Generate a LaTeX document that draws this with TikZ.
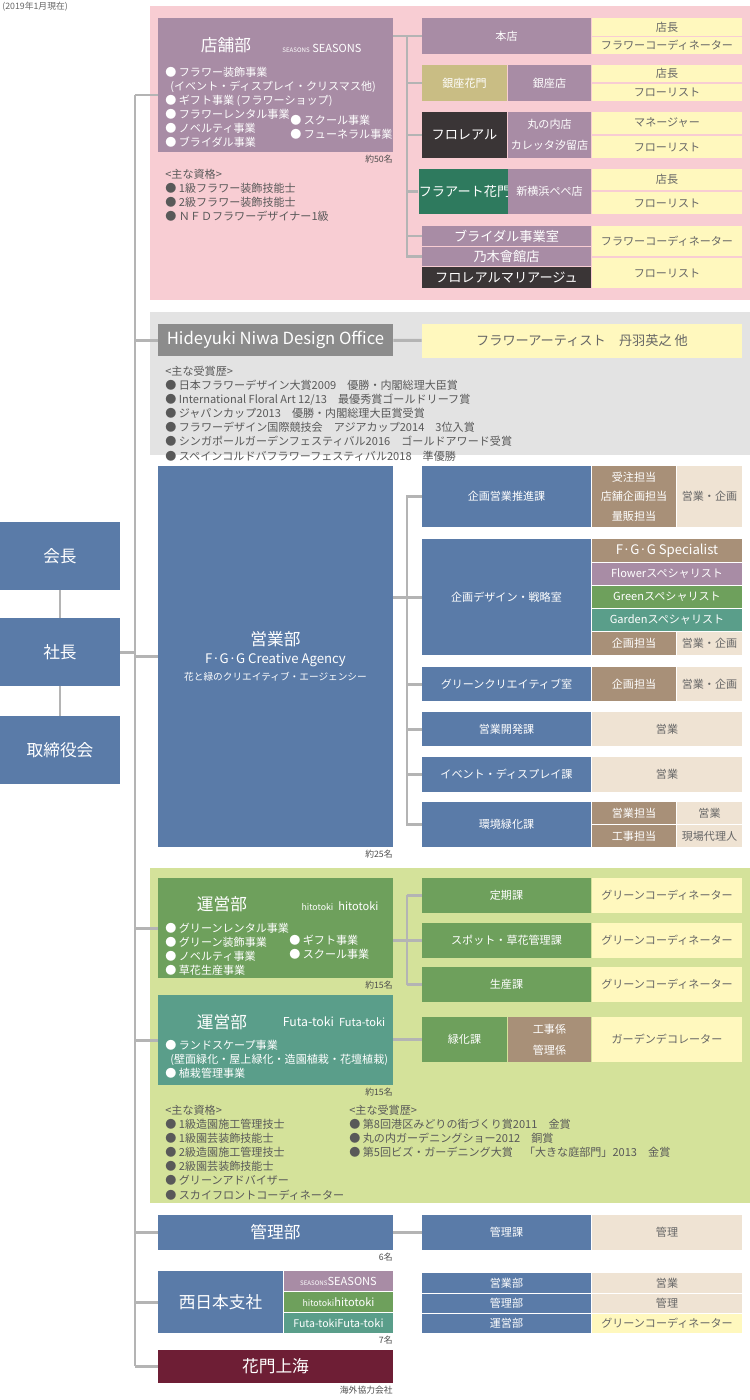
\documentclass[tikz,border=0pt]{standalone}
\usepackage{fontspec}
\setmainfont{Noto Sans CJK JP}
\usepackage{tikz}
\definecolor{pinkbg}{HTML}{F8CDD3}
\definecolor{mauve}{HTML}{A88CA5}
\definecolor{khaki}{HTML}{C9BD84}
\definecolor{darkb}{HTML}{3A3536}
\definecolor{fgreen}{HTML}{2E7A5E}
\definecolor{lyel}{HTML}{FFF8BE}
\definecolor{greybg}{HTML}{E3E3E3}
\definecolor{hngrey}{HTML}{8C8C8C}
\definecolor{sblue}{HTML}{5A7BA8}
\definecolor{tan}{HTML}{A89078}
\definecolor{beige}{HTML}{EFE3D3}
\definecolor{greenbg}{HTML}{D4E29A}
\definecolor{mgreen}{HTML}{6EA05C}
\definecolor{teal}{HTML}{5A9E8A}
\definecolor{maroon}{HTML}{6E1E35}
\definecolor{lgrey}{HTML}{B4B4B4}
\newcommand\fs{\fontsize{6.3}{8}\selectfont}
\newcommand\fm{\fontsize{7.5}{9}\selectfont}
\newcommand\fb{\fontsize{9.5}{11}\selectfont}
% box from (x1,y1) to (x2,y2) in pixels
\newcommand\rb[7]{\node[#6, minimum width={(#4-#2)*0.02cm}, minimum height={(#5-#3)*0.02cm}] (#1) at ({(#2+#4)/2},{(#3+#5)/2}) {#7};}
\begin{document}
\begin{tikzpicture}[x=0.02cm, y=-0.02cm]
        \tikzset{
            box/.style={inner sep=0pt, align=center, text=white, font=\fs},
            ybox/.style={box, fill=lyel, text=black!60},
            bbox/.style={box, fill=beige, text=black!60},
            conn/.style={draw=lgrey, line width=1.7pt},
            note/.style={inner sep=0pt, align=left, font=\fs, text=black!65, anchor=north west},
            cnt/.style={inner sep=0pt, font=\fontsize{5}{6}\selectfont, text=black!70, anchor=north east}
        }
        \useasboundingbox (0,0) rectangle (750,1400);
        \node[inner sep=0pt, anchor=north west, font=\fontsize{5}{6}\selectfont, text=black!60] (date) at (2,2) {(2019年1月現在)};

        % Section backgrounds
        \fill[pinkbg] (150,6) rectangle (750,300);
        \fill[greybg] (150,312) rectangle (750,455);
        \fill[greenbg] (150,868) rectangle (750,1203);

        % Executives
        \rb{kaicho}{0}{522}{120}{590}{box, fill=sblue, font=\fb}{会長}
        \rb{shacho}{0}{618}{120}{686}{box, fill=sblue, font=\fb}{社長}
        \rb{board}{0}{716}{120}{784}{box, fill=sblue, font=\fb}{取締役会}
        \draw[conn] (kaicho) -- (shacho) -- (board);
        \coordinate (trunkTop) at (135,95);
        \coordinate (trunkBot) at (135,1366);
        \draw[conn] (trunkTop) -- (trunkBot);
        \draw[conn] (shacho.east) -- (shacho.east -| trunkTop);

        % Store division
        \rb{tenpo}{158}{18}{393}{152}{box, fill=mauve}{}
        \node[text=white, font=\fb, inner sep=0pt] (tenpoT) at (226,45) {店舗部};
        \node[text=white, font=\fs, inner sep=0pt] (tenpoL) at (322,48) {{\fontsize{3.5}{4}\selectfont SEASONS}\ SEASONS};
        \node[note, text=white] (tenpoList) at (165,67) {● フラワー装飾事業\\\ \ (イベント・ディスプレイ・クリスマス他)\\● ギフト事業 (フラワーショップ)\\● フラワーレンタル事業\\● ノベルティ事業\\● ブライダル事業};
        \node[note, text=white] (tenpoList2) at (290,115) {● スクール事業\\● フューネラル事業};
        \node[cnt] (tenpoN) at (393,155) {約50名};
        \node[note] (tenpoQ) at (165,169) {<主な資格>\\● 1級フラワー装飾技能士\\● 2級フラワー装飾技能士\\● ＮＦＤフラワーデザイナー1級};

        \rb{honten}{422}{18}{591}{54}{box, fill=mauve}{本店}
        \rb{hontenA}{592}{18}{742}{36}{ybox}{店長}
        \rb{hontenB}{592}{37}{742}{54}{ybox}{フラワーコーディネーター}
        \rb{ginzaK}{422}{65}{507}{101}{box, fill=khaki}{銀座花門}
        \rb{ginza}{508}{65}{591}{101}{box, fill=mauve}{銀座店}
        \rb{ginzaA}{592}{65}{742}{82}{ybox}{店長}
        \rb{ginzaB}{592}{84}{742}{101}{ybox}{フローリスト}
        \rb{floreal}{422}{112}{507}{158}{box, fill=darkb, font=\fm}{フロレアル}
        \rb{marunouchi}{508}{112}{591}{158}{box, fill=mauve, font=\fs\linespread{1.5}\selectfont}{丸の内店\\カレッタ汐留店}
        \rb{florealA}{592}{112}{742}{134}{ybox}{マネージャー}
        \rb{florealB}{592}{136}{742}{158}{ybox}{フローリスト}
        \rb{fleurart}{422}{169}{507}{214}{box, fill=fgreen, font=\fm}{フラアート花門}
        \rb{pepe}{508}{169}{591}{214}{box, fill=mauve}{新横浜ぺぺ店}
        \rb{pepeA}{592}{169}{742}{190}{ybox}{店長}
        \rb{pepeB}{592}{192}{742}{214}{ybox}{フローリスト}
        \rb{bridal}{422}{226}{591}{246}{box, fill=mauve, font=\fm}{ブライダル事業室}
        \rb{nogi}{422}{247}{591}{266}{box, fill=mauve, font=\fm}{乃木會館店}
        \rb{mariage}{422}{267}{591}{288}{box, fill=darkb, font=\fm}{フロレアルマリアージュ}
        \rb{bridalA}{592}{226}{742}{256}{ybox}{フラワーコーディネーター}
        \rb{bridalB}{592}{258}{742}{288}{ybox}{フローリスト}
        \coordinate (brA) at (407,36);
        \draw[conn] (brA) -- (407,258);
        \draw[conn] (tenpo.east |- honten.west) -- (honten.west);
        \foreach \n in {ginzaK, floreal, fleurart, bridal}
            \draw[conn] (\n.west) -- (\n.west -| brA);
        \draw[conn] (nogi.west) -- (nogi.west -| brA);
        \draw[conn] (tenpo.west |- trunkTop) -- (trunkTop);

        % Design office
        \rb{hnd}{158}{324}{393}{356}{box, fill=hngrey, font=\fb}{Hideyuki Niwa Design Office}
        \rb{artist}{422}{324}{742}{358}{ybox, font=\fm}{フラワーアーティスト　丹羽英之 他}
        \draw[conn] (hnd) -- (artist);
        \draw[conn] (hnd.west) -- (hnd.west -| trunkTop);
        \node[note] (hndList) at (165,366) {<主な受賞歴>\\● 日本フラワーデザイン大賞2009　優勝・内閣総理大臣賞\\● International Floral Art 12/13　最優秀賞ゴールドリーフ賞\\● ジャパンカップ2013　優勝・内閣総理大臣賞受賞\\● フラワーデザイン国際競技会　アジアカップ2014　3位入賞\\● シンガポールガーデンフェスティバル2016　ゴールドアワード受賞\\● スペインコルドバフラワーフェスティバル2018　準優勝};

        % Sales division
        \rb{eigyo}{158}{466}{393}{847}{box, fill=sblue}{{\fb 営業部}\\[2pt]{\fm F·G·G Creative Agency}\\[2pt]{\fontsize{5.5}{7}\selectfont 花と緑のクリエイティブ・エージェンシー}}
        \node[cnt] (eigyoN) at (393,850) {約25名};
        \draw[conn] (eigyo.west) -- (eigyo.west -| trunkTop);
        \rb{kikaku}{422}{466}{591}{527}{box, fill=sblue}{企画営業推進課}
        \rb{kikakuA}{592}{466}{676}{527}{box, fill=tan, font=\fs\linespread{1.4}\selectfont}{受注担当\\店舗企画担当\\量販担当}
        \rb{kikakuB}{677}{466}{742}{527}{bbox}{営業・企画}
        \rb{senryaku}{422}{539}{591}{655}{box, fill=sblue}{企画デザイン・戦略室}
        \rb{fggs}{592}{539}{742}{562}{box, fill=tan, font=\fm}{F·G·G Specialist}
        \rb{flowerS}{592}{563}{742}{585}{box, fill=mauve}{Flowerスペシャリスト}
        \rb{greenS}{592}{586}{742}{608}{box, fill=mgreen}{Greenスペシャリスト}
        \rb{gardenS}{592}{609}{742}{631}{box, fill=teal}{Gardenスペシャリスト}
        \rb{senryakuA}{592}{632}{676}{655}{box, fill=tan}{企画担当}
        \rb{senryakuB}{677}{632}{742}{655}{bbox}{営業・企画}
        \rb{gcreative}{422}{667}{591}{701}{box, fill=sblue}{グリーンクリエイティブ室}
        \rb{gcreativeA}{592}{667}{676}{701}{box, fill=tan}{企画担当}
        \rb{gcreativeB}{677}{667}{742}{701}{bbox}{営業・企画}
        \rb{kaihatsu}{422}{712}{591}{746}{box, fill=sblue}{営業開発課}
        \rb{kaihatsuA}{592}{712}{742}{746}{bbox}{営業}
        \rb{event}{422}{757}{591}{792}{box, fill=sblue}{イベント・ディスプレイ課}
        \rb{eventA}{592}{757}{742}{792}{bbox}{営業}
        \rb{kankyo}{422}{802}{591}{847}{box, fill=sblue}{環境緑化課}
        \rb{kankyoA}{592}{802}{676}{824}{box, fill=tan}{営業担当}
        \rb{kankyoB}{677}{802}{742}{824}{bbox}{営業}
        \rb{kankyoC}{592}{825}{676}{847}{box, fill=tan}{工事担当}
        \rb{kankyoD}{677}{825}{742}{847}{bbox}{現場代理人}
        \coordinate (brB) at (407,495);
        \draw[conn] (brB) -- (407,826);
        \draw[conn] (eigyo.east |- senryaku.west) -- (brB |- senryaku.west);
        \foreach \n in {kikaku, senryaku, gcreative, kaihatsu, event, kankyo}
            \draw[conn] (\n.west) -- (\n.west -| brB);

        % Operations divisions
        \rb{hitotoki}{158}{878}{393}{978}{box, fill=mgreen}{}
        \node[text=white, font=\fb, inner sep=0pt] (hitoT) at (222,904) {運営部};
        \node[text=white, font=\fs, inner sep=0pt] (hitoL) at (340,906) {{\itshape\fontsize{5}{6}\selectfont hitotoki}\ \ hitotoki};
        \node[note, text=white] (hitoList) at (165,923) {● グリーンレンタル事業\\● グリーン装飾事業\\● ノベルティ事業\\● 草花生産事業};
        \node[note, text=white] (hitoList2) at (289,935) {● ギフト事業\\● スクール事業};
        \node[cnt] (hitoN) at (393,981) {約15名};
        \rb{futatoki}{158}{995}{393}{1085}{box, fill=teal}{}
        \node[text=white, font=\fb, inner sep=0pt] (futaT) at (222,1022) {運営部};
        \node[text=white, font=\fs, inner sep=0pt] (futaL) at (334,1022) {{\itshape\fontsize{7}{8}\selectfont Futa-toki}\ \ Futa-toki};
        \node[note, text=white] (futaList) at (165,1040) {● ランドスケープ事業\\\ \ (壁面緑化・屋上緑化・造園植栽・花壇植栽)\\● 植栽管理事業};
        \node[cnt] (futaN) at (393,1088) {約15名};
        \node[note] (opQ) at (165,1105) {<主な資格>\\● 1級造園施工管理技士\\● 1級園芸装飾技能士\\● 2級造園施工管理技士\\● 2級園芸装飾技能士\\● グリーンアドバイザー\\● スカイフロントコーディネーター};
        \node[note] (opA) at (349,1105) {<主な受賞歴>\\● 第8回港区みどりの街づくり賞2011　金賞\\● 丸の内ガーデニングショー2012　銅賞\\● 第5回ビズ・ガーデニング大賞　「大きな庭部門」2013　金賞};
        \rb{teiki}{422}{878}{591}{913}{box, fill=mgreen}{定期課}
        \rb{teikiA}{592}{878}{742}{913}{ybox}{グリーンコーディネーター}
        \rb{spot}{422}{923}{591}{958}{box, fill=mgreen}{スポット・草花管理課}
        \rb{spotA}{592}{923}{742}{958}{ybox}{グリーンコーディネーター}
        \rb{seisan}{422}{967}{591}{1002}{box, fill=mgreen}{生産課}
        \rb{seisanA}{592}{967}{742}{1002}{ybox}{グリーンコーディネーター}
        \rb{ryokka}{422}{1017}{507}{1062}{box, fill=mgreen}{緑化課}
        \rb{ryokkaA}{508}{1017}{591}{1062}{box, fill=tan, font=\fs\linespread{1.5}\selectfont}{工事係\\管理係}
        \rb{ryokkaB}{592}{1017}{742}{1062}{ybox}{ガーデンデコレーター}
        \coordinate (brC) at (407,895);
        \draw[conn] (brC) -- (407,985);
        \draw[conn] (hitotoki.east |- spot.west) -- (brC |- spot.west);
        \foreach \n in {teiki, spot, seisan}
            \draw[conn] (\n.west) -- (\n.west -| brC);
        \draw[conn] (futatoki.east |- ryokka.west) -- (ryokka.west);
        \draw[conn] (hitotoki.west) -- (hitotoki.west -| trunkTop);
        \draw[conn] (futatoki.west) -- (futatoki.west -| trunkTop);

        % Administration
        \rb{kanri}{158}{1215}{393}{1250}{box, fill=sblue, font=\fb}{管理部}
        \node[cnt] (kanriN) at (393,1253) {6名};
        \rb{kanrika}{422}{1215}{591}{1250}{box, fill=sblue}{管理課}
        \rb{kanrikaA}{592}{1215}{742}{1250}{bbox}{管理}
        \draw[conn] (kanri) -- (kanrika);
        \draw[conn] (kanri.west) -- (kanri.west -| trunkTop);

        % West Japan branch
        \rb{nishi}{158}{1271}{283}{1333}{box, fill=sblue, font=\fb}{西日本支社}
        \rb{nishiS}{284}{1271}{393}{1291}{box, fill=mauve}{{\fontsize{3.5}{4}\selectfont SEASONS}\hfill SEASONS}
        \rb{nishiH}{284}{1292}{393}{1312}{box, fill=mgreen}{{\itshape\fontsize{5}{6}\selectfont hitotoki}\hfill hitotoki}
        \rb{nishiF}{284}{1313}{393}{1333}{box, fill=teal}{{\itshape\fontsize{6}{7}\selectfont Futa-toki}\hfill Futa-toki}
        \node[cnt] (nishiN) at (393,1336) {7名};
        \rb{nEigyo}{422}{1273}{591}{1293}{box, fill=sblue}{営業部}
        \rb{nEigyoA}{592}{1273}{742}{1293}{bbox}{営業}
        \rb{nKanri}{422}{1294}{591}{1313}{box, fill=sblue}{管理部}
        \rb{nKanriA}{592}{1294}{742}{1313}{bbox}{管理}
        \rb{nUnei}{422}{1314}{591}{1333}{box, fill=sblue}{運営部}
        \rb{nUneiA}{592}{1314}{742}{1333}{ybox}{グリーンコーディネーター}
        \draw[conn] (nishi.west) -- (nishi.west -| trunkTop);

        % Shanghai
        \rb{shanghai}{158}{1350}{393}{1383}{box, fill=maroon, font=\fb}{花門上海}
        \node[cnt] (shanghaiN) at (393,1386) {海外協力会社};
        \draw[conn] (shanghai.west) -- (shanghai.west -| trunkTop);
    \end{tikzpicture}
\end{document}
